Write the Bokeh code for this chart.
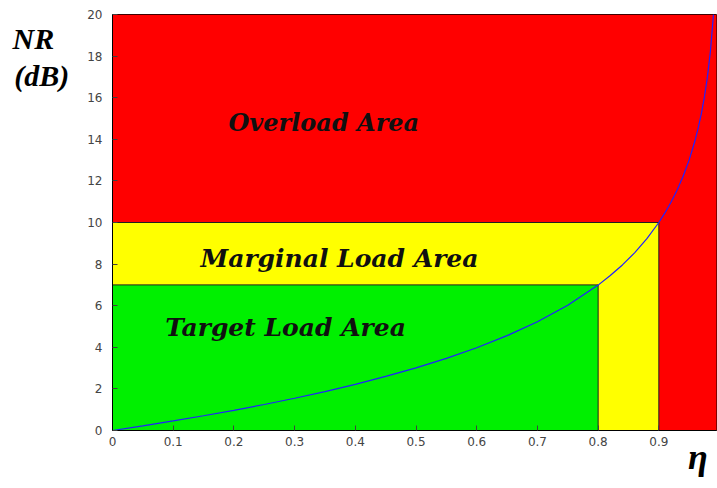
from bokeh.plotting import figure
from bokeh.models import Label, FixedTicker, Range1d
from bokeh.embed import file_html
from bokeh.resources import INLINE

# Noise-rise curve
eta = [0, 0.05, 0.1, 0.15, 0.2, 0.25, 0.3, 0.35, 0.4, 0.45, 0.5, 0.55, 0.6, 0.65,
       0.7, 0.75, 0.8, 0.82, 0.84, 0.86, 0.88, 0.9, 0.91, 0.92, 0.93, 0.94, 0.95,
       0.96, 0.965, 0.97, 0.975, 0.98, 0.985, 0.99]
nr = [0, 0.22, 0.46, 0.71, 0.97, 1.25, 1.55, 1.87, 2.22, 2.60, 3.01, 3.47, 3.98, 4.56,
      5.23, 6.02, 6.99, 7.45, 7.96, 8.54, 9.21, 10.0, 10.46, 10.97, 11.55, 12.22, 13.01,
      13.98, 14.56, 15.23, 16.02, 16.99, 18.24, 20.0]

# Area boundaries (eta, NR)
area_names = ["Overload Area", "Marginal Load Area", "Target Load Area"]
area_eta_max = [1.0, 0.9, 0.8]
area_nr_max = [20, 10, 7]
area_colors = ["#FF0000", "#FFFF00", "#00F000"]

x_ticks = [0, 0.1, 0.2, 0.3, 0.4, 0.5, 0.6, 0.7, 0.8, 0.9]
y_ticks = [0, 2, 4, 6, 8, 10, 12, 14, 16, 18, 20]

x_title = "η"
y_title = ["NR\u00a0\u00a0", "(dB)"]

p = figure(width=717, height=488, output_backend="svg", toolbar_location=None,
           x_range=Range1d(0, 0.995), y_range=Range1d(0, 20),
           min_border_left=112, min_border_top=14, min_border_right=1, min_border_bottom=58)
p.grid.visible = False
p.outline_line_color = "black"
p.background_fill_color = "white"

for i in range(3):
    p.quad(left=0, right=area_eta_max[i], bottom=0, top=area_nr_max[i],
           fill_color=area_colors[i], line_color="#202020" if i > 0 else None,
           line_width=1)

p.line(eta, nr, line_color="#2020FF", line_width=1.2)

for ax in (p.xaxis[0], p.yaxis[0]):
    ax.axis_line_color = "black"
    ax.major_tick_in = 5
    ax.major_tick_out = 0
    ax.minor_tick_line_color = None
    ax.major_tick_line_color = "#404040"
    ax.major_label_text_color = "#444444"
    ax.major_label_text_font = "DejaVu Sans"
    ax.major_label_text_font_size = "12px"
    ax.major_label_standoff = 6
    ax.axis_label_text_font = "Liberation Serif"
    ax.axis_label_text_font_style = "bold italic"
    ax.axis_label_text_color = "black"

p.xaxis.ticker = FixedTicker(ticks=x_ticks)
p.yaxis.ticker = FixedTicker(ticks=y_ticks)
p.yaxis.major_label_standoff = 10

# y title: horizontal, pushed to the top with empty trailing lines
p.yaxis.axis_label = "\n".join(y_title + [""] * 9)
p.yaxis.axis_label_orientation = "horizontal"
p.yaxis.axis_label_text_font_size = "30px"
p.yaxis.axis_label_text_line_height = 1.115
p.yaxis.axis_label_standoff = 15

# x title: pushed to the right end with leading no-break spaces
p.xaxis.axis_label = "\u00a0" * 63 + x_title
p.xaxis.axis_label_text_font_size = "36px"
p.xaxis.axis_label_standoff = -12

txt = dict(text_font="DejaVu Serif", text_font_style="bold italic", text_color="#101010",
           text_baseline="middle", text_align="left")
p.add_layout(Label(x=0.191, y=14.8, text=area_names[0], text_font_size="24px", **txt))
p.add_layout(Label(x=0.145, y=8.25, text=area_names[1], text_font_size="25px", **txt))
p.add_layout(Label(x=0.087, y=4.95, text=area_names[2], text_font_size="25px", **txt))

open("out.html", "w").write(file_html(p, INLINE))
